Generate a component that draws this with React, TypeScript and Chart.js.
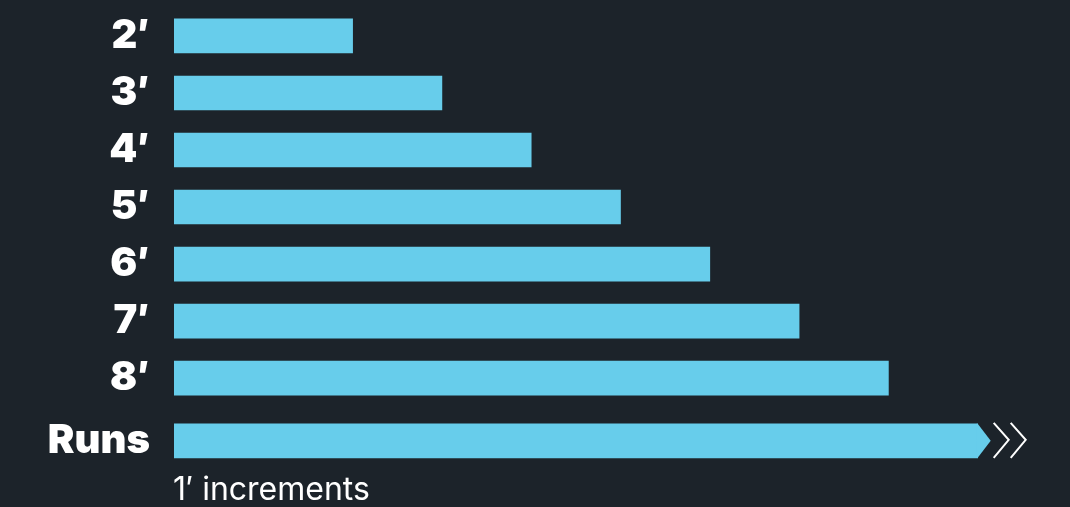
import React, { useEffect, useRef } from "react";
import { Chart, registerables } from "chart.js";

Chart.register(...registerables);

const categories = ["2′", "3′", "4′", "5′", "6′", "7′", "8′", "Runs"];
const values = [2, 3, 4, 5, 6, 7, 8, 9];
const rowPositions = [0, 1, 2, 3, 4, 5, 6, 7.1];
const footnote = "1′ increments";

const BG = "#1c232a";
const BAR = "#67cdeb";

export default function App() {
  const ref = useRef<HTMLCanvasElement | null>(null);

  useEffect(() => {
    document.body.style.margin = "0";
    document.body.style.background = BG;
    const canvas = ref.current;
    if (!canvas) return;

    const arrowPlugin = {
      id: "arrowPlugin",
      beforeDraw(chart: any) {
        const { ctx } = chart;
        ctx.save();
        ctx.fillStyle = BG;
        ctx.fillRect(0, 0, chart.width, chart.height);
        ctx.restore();
      },
      afterDatasetsDraw(chart: any) {
        const { ctx } = chart;
        const meta = chart.getDatasetMeta(0);
        const last = meta.data[meta.data.length - 1];
        if (!last) return;
        const { x, y, height } = last.getProps(["x", "y", "height"], true);
        const top = y - height / 2;
        const bot = y + height / 2;
        ctx.save();
        ctx.fillStyle = BAR;
        ctx.beginPath();
        ctx.moveTo(x - 1, top);
        ctx.lineTo(x, top);
        ctx.lineTo(x + 13, y);
        ctx.lineTo(x, bot);
        ctx.lineTo(x - 1, bot);
        ctx.closePath();
        ctx.fill();
        ctx.strokeStyle = "#ffffff";
        ctx.lineWidth = 2;
        [16, 33].forEach((dx) => {
          ctx.beginPath();
          ctx.moveTo(x + dx, top - 1);
          ctx.lineTo(x + dx + 15, y - 1);
          ctx.lineTo(x + dx, bot);
          ctx.stroke();
        });
        ctx.fillStyle = "#ffffff";
        ctx.font = "32px Inter";
        ctx.textAlign = "left";
        ctx.textBaseline = "alphabetic";
        ctx.fillText(footnote, chart.chartArea.left - 1, 500);
        ctx.restore();
      },
    };

    const chart = new Chart(canvas, {
      type: "bar",
      data: {
        datasets: [
          {
            data: values.map((v, i) => ({ x: v, y: rowPositions[i] })),
            backgroundColor: BAR,
            borderWidth: 0,
            barThickness: 34,
          },
        ],
      },
      options: {
        indexAxis: "y",
        animation: false,
        responsive: false,
        maintainAspectRatio: false,
        layout: { padding: { left: 0, right: 3, top: 0, bottom: 0 } },
        plugins: {
          legend: { display: false },
          tooltip: { enabled: false },
        },
        scales: {
          x: {
            type: "linear",
            display: false,
            min: 0,
            max: 10,
          },
          y: {
            type: "linear",
            reverse: true,
            offset: false,
            bounds: "data",
            min: -0.63,
            max: 8.26,
            grid: { display: false },
            border: { display: false },
            afterBuildTicks: (scale: any) => {
              scale.ticks = rowPositions.map((v) => ({ value: v }));
            },
            afterFit: (scale: any) => {
              scale.width = 174;
              scale.paddingTop = 0;
              scale.paddingBottom = 0;
            },
            ticks: {
              autoSkip: false,
              padding: 16,
              color: "#ffffff",
              font: { family: "Inter", size: 40, weight: "900" as any },
              callback: (value: any) => {
                const idx = rowPositions.indexOf(Number(value));
                return idx >= 0 ? categories[idx] : "";
              },
            },
          },
        },
      } as any,
      plugins: [arrowPlugin],
    });

    return () => chart.destroy();
  }, []);

  return (
    <div style={{ width: 1070, height: 507, background: BG }}>
      <canvas ref={ref} width={1070} height={507} style={{ display: "block" }} />
    </div>
  );
}
